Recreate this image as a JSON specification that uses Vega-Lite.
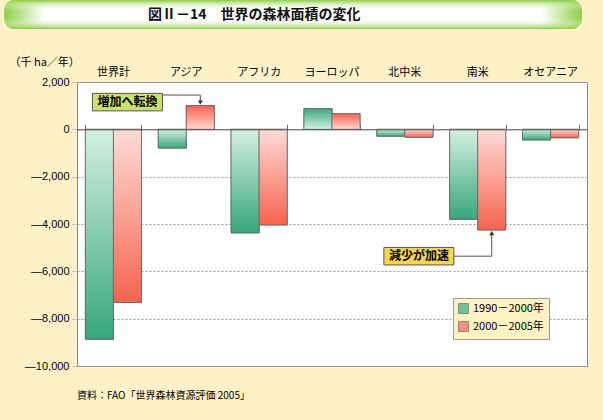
{
  "$schema": "https://vega.github.io/schema/vega-lite/v6.json",
  "background": "#fff2c8",
  "padding": {"left": 0, "top": 0, "right": 0, "bottom": 19},
  "config": {"font": "Noto Sans CJK JP", "view": {"stroke": null}},
  "datasets": {
    "forest": [
      {"region": "世界計", "period": "1990－2000年", "value": -8868},
      {"region": "世界計", "period": "2000－2005年", "value": -7317},
      {"region": "アジア", "period": "1990－2000年", "value": -792},
      {"region": "アジア", "period": "2000－2005年", "value": 1003},
      {"region": "アフリカ", "period": "1990－2000年", "value": -4375},
      {"region": "アフリカ", "period": "2000－2005年", "value": -4040},
      {"region": "ヨーロッパ", "period": "1990－2000年", "value": 877},
      {"region": "ヨーロッパ", "period": "2000－2005年", "value": 661},
      {"region": "北中米", "period": "1990－2000年", "value": -290},
      {"region": "北中米", "period": "2000－2005年", "value": -333},
      {"region": "南米", "period": "1990－2000年", "value": -3802},
      {"region": "南米", "period": "2000－2005年", "value": -4251},
      {"region": "オセアニア", "period": "1990－2000年", "value": -448},
      {"region": "オセアニア", "period": "2000－2005年", "value": -356}
    ],
    "ann": [
      {"region": "世界計", "period": "2000－2005年", "value": 1150, "label": "増加へ転換", "kind": "inc"},
      {"region": "北中米", "period": "2000－2005年", "value": -5360, "label": "減少が加速", "kind": "dec"}
    ],
    "conn": [
      {"g": 1, "s": 1, "region": "世界計", "period": "2000－2005年", "value": 1450},
      {"g": 1, "s": 2, "region": "アジア", "period": "2000－2005年", "value": 1450},
      {"g": 1, "s": 3, "region": "アジア", "period": "2000－2005年", "value": 1150},
      {"g": 2, "s": 1, "region": "北中米", "period": "2000－2005年", "value": -5360},
      {"g": 2, "s": 2, "region": "南米", "period": "2000－2005年", "value": -5360},
      {"g": 2, "s": 3, "region": "南米", "period": "2000－2005年", "value": -4420}
    ],
    "arrows": [
      {"region": "アジア", "period": "2000－2005年", "value": 1130, "dir": "triangle-down"},
      {"region": "南米", "period": "2000－2005年", "value": -4380, "dir": "triangle-up"}
    ],
    "heading": [{"t": "図Ⅱ－14　世界の森林面積の変化", "x0": -76, "x1": 527, "xc": 185}]
  },
  "concat": [
    {
      "width": 527,
      "height": 29,
      "view": {"stroke": null},
      "data": {"name": "heading"},
      "layer": [
        {
          "mark": {"type": "rect", "cornerRadius": 10, "fill": {"gradient": "linear", "x1": 0, "y1": 0, "x2": 1, "y2": 0, "stops": [{"offset": 0, "color": "#8ecf45"}, {"offset": 0.07, "color": "#ffffff"}, {"offset": 0.93, "color": "#ffffff"}, {"offset": 1, "color": "#8ecf45"}]}},
          "encoding": {
            "x": {"field": "x0", "type": "quantitative", "scale": {"domain": [0, 527]}, "axis": null},
            "x2": {"field": "x1"}
          }
        },
        {
          "mark": {"type": "rect", "cornerRadius": 10, "fill": {"gradient": "linear", "x1": 0, "y1": 0, "x2": 0, "y2": 1, "stops": [{"offset": 0, "color": "rgba(142,207,69,1)"}, {"offset": 0.35, "color": "rgba(255,255,255,0)"}, {"offset": 0.65, "color": "rgba(255,255,255,0)"}, {"offset": 1, "color": "rgba(142,207,69,1)"}]}},
          "encoding": {
            "x": {"field": "x0", "type": "quantitative", "axis": null},
            "x2": {"field": "x1"}
          }
        },
        {
          "mark": {"type": "text", "fontSize": 14, "fontWeight": "bold", "color": "#111"},
          "encoding": {
            "x": {"field": "xc", "type": "quantitative", "axis": null},
            "text": {"field": "t"}
          }
        }
      ]
    },
    {
      "width": 510,
      "height": 284,
      "view": {"fill": "white", "stroke": "#888", "strokeWidth": 1},
      "title": {"text": "資料：FAO「世界森林資源評価 2005」", "orient": "bottom", "anchor": "start", "frame": "group", "fontSize": 10, "fontWeight": "normal", "offset": 20, "color": "#000"},
      "resolve": {"axis": {"x": "independent"}},
      "layer": [
        {
          "data": {"name": "forest"},
          "mark": {"type": "bar", "stroke": "#666", "strokeWidth": 0.8},
          "encoding": {
            "x": {"field": "region", "type": "nominal", "sort": ["世界計", "アジア", "アフリカ", "ヨーロッパ", "北中米", "南米", "オセアニア"], "scale": {"paddingInner": 0.23, "paddingOuter": 0.115},
              "axis": {"orient": "top", "title": null, "domain": false, "ticks": false, "labelAngle": 0, "labelFontSize": 11, "labelPadding": 5, "labelColor": "#000"}},
            "xOffset": {"field": "period", "type": "nominal"},
            "y": {"field": "value", "type": "quantitative", "scale": {"domain": [-10000, 2000], "nice": false},
              "axis": {"values": [-10000, -8000, -6000, -4000, -2000, 0, 2000], "labelExpr": "datum.value < 0 ? '—' + format(-datum.value, ',') : format(datum.value, ',')", "grid": true, "gridDash": [2, 2], "gridColor": "#999", "domain": false, "tickSize": 6, "tickColor": "#999", "tickDash": [1, 1], "labelPadding": 2, "labelFont": "Liberation Sans", "labelFontSize": 11, "labelColor": "#000", "title": "（千 ha／年）", "titleAngle": 0, "titleAlign": "left", "titleBaseline": "middle", "titleX": -68, "titleY": -20, "titleFontWeight": "normal", "titleFontSize": 11, "titleColor": "#000", "minExtent": 76}},
            "fill": {"field": "period", "type": "nominal", "scale": {"range": ["#6cc59a", "#fb8f80"]},
              "legend": {"title": null, "orient": "none", "legendX": 376, "legendY": 298, "fillColor": "#fff3c2", "strokeColor": "#999", "padding": 5, "labelFontSize": 11, "labelColor": "#000", "symbolType": "square", "symbolSize": 100, "symbolStrokeColor": "#777", "symbolStrokeWidth": 0.8, "rowPadding": 3}}
          }
        },
        {
          "data": {"name": "forest"},
          "mark": {"type": "bar", "stroke": "#666", "strokeWidth": 0.8},
          "encoding": {
            "x": {"field": "region", "type": "nominal", "sort": ["世界計", "アジア", "アフリカ", "ヨーロッパ", "北中米", "南米", "オセアニア"],
              "axis": {"orient": "bottom", "offset": -236.67, "labels": false, "title": null, "tickBand": "extent", "tickSize": -5, "tickColor": "#666", "domainColor": "#555", "zindex": 1}},
            "xOffset": {"field": "period", "type": "nominal"},
            "y": {"field": "value", "type": "quantitative"},
            "fill": {
              "condition": [
                {"test": "datum.period == '1990－2000年' && datum.value > 0", "value": {"gradient": "linear", "x1": 0, "y1": 0, "x2": 0, "y2": 1, "stops": [{"offset": 0, "color": "#3aa87c"}, {"offset": 1, "color": "#d5f0e2"}]}},
                {"test": "datum.period == '1990－2000年'", "value": {"gradient": "linear", "x1": 0, "y1": 0, "x2": 0, "y2": 1, "stops": [{"offset": 0, "color": "#d5f0e2"}, {"offset": 1, "color": "#36a77a"}]}},
                {"test": "datum.value > 0", "value": {"gradient": "linear", "x1": 0, "y1": 0, "x2": 0, "y2": 1, "stops": [{"offset": 0, "color": "#f8644f"}, {"offset": 1, "color": "#ffd8d0"}]}}
              ],
              "value": {"gradient": "linear", "x1": 0, "y1": 0, "x2": 0, "y2": 1, "stops": [{"offset": 0, "color": "#ffdcd6"}, {"offset": 1, "color": "#f6634f"}]}
            }
          }
        },
        {
          "data": {"name": "conn"},
          "mark": {"type": "line", "color": "#555", "strokeWidth": 1},
          "encoding": {
            "x": {"field": "region", "type": "nominal", "sort": ["世界計", "アジア", "アフリカ", "ヨーロッパ", "北中米", "南米", "オセアニア"], "axis": null},
            "xOffset": {"field": "period", "type": "nominal"},
            "y": {"field": "value", "type": "quantitative"},
            "detail": {"field": "g"},
            "order": {"field": "s"}
          }
        },
        {
          "data": {"name": "arrows"},
          "mark": {"type": "point", "filled": true, "color": "#333", "size": 25, "opacity": 1},
          "encoding": {
            "x": {"field": "region", "type": "nominal", "sort": ["世界計", "アジア", "アフリカ", "ヨーロッパ", "北中米", "南米", "オセアニア"], "axis": null},
            "xOffset": {"field": "period", "type": "nominal"},
            "y": {"field": "value", "type": "quantitative"},
            "shape": {"field": "dir", "type": "nominal", "scale": null}
          }
        },
        {
          "data": {"name": "ann"},
          "mark": {"type": "point", "filled": true, "shape": "M-1,-0.25H1V0.25H-1Z", "size": 4900, "stroke": "#555", "strokeWidth": 1, "opacity": 1},
          "encoding": {
            "x": {"field": "region", "type": "nominal", "sort": ["世界計", "アジア", "アフリカ", "ヨーロッパ", "北中米", "南米", "オセアニア"], "axis": null},
            "xOffset": {"field": "period", "type": "nominal"},
            "y": {"field": "value", "type": "quantitative"},
            "fill": {"condition": {"test": "datum.kind == 'inc'", "value": "#c9e36a"}, "value": "#f7d64f"}
          }
        },
        {
          "data": {"name": "ann"},
          "mark": {"type": "text", "fontSize": 12, "fontWeight": "bold", "color": "#000"},
          "encoding": {
            "x": {"field": "region", "type": "nominal", "sort": ["世界計", "アジア", "アフリカ", "ヨーロッパ", "北中米", "南米", "オセアニア"], "axis": null},
            "xOffset": {"field": "period", "type": "nominal"},
            "y": {"field": "value", "type": "quantitative"},
            "text": {"field": "label"}
          }
        }
      ]
    }
  ],
  "columns": 1,
  "spacing": 26
}
